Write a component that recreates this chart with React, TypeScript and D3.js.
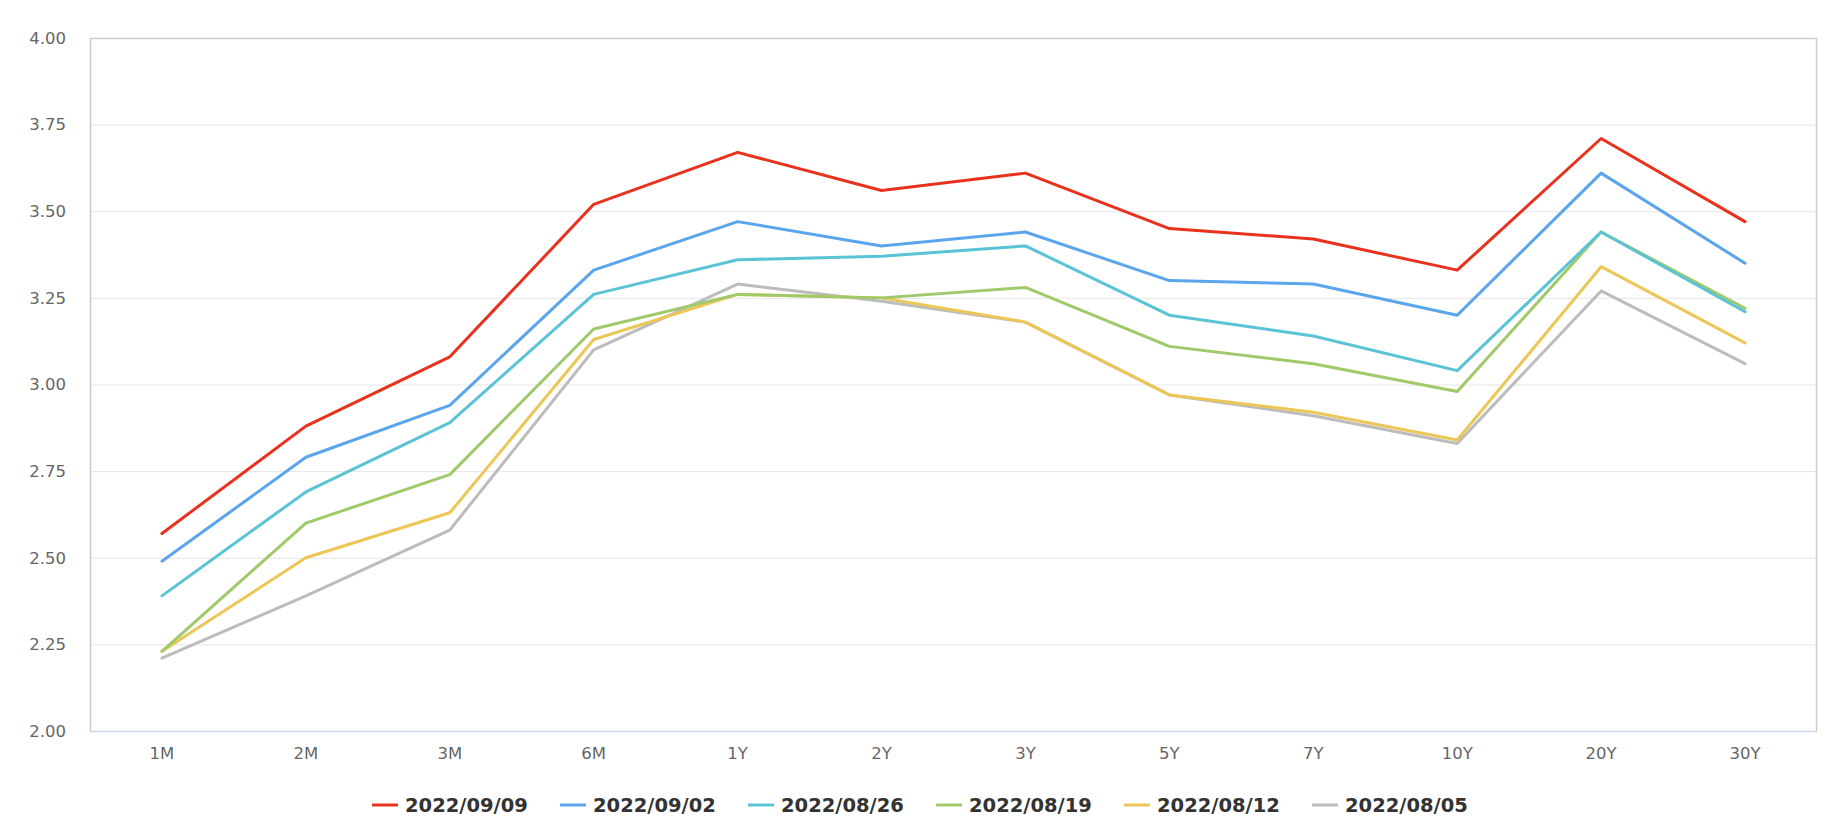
import * as d3 from "d3";
import { useEffect, useRef } from "react";

// tenors on the x axis
const tenors = ["1M", "2M", "3M", "6M", "1Y", "2Y", "3Y", "5Y", "7Y", "10Y", "20Y", "30Y"];

const dates = ["2022/09/09", "2022/09/02", "2022/08/26", "2022/08/19", "2022/08/12", "2022/08/05"];
const colors = ["#e8321e", "#5aa5ec", "#5bc3d6", "#a0c96a", "#ecc656", "#bcbcbc"];

const curve0909 = [2.57, 2.88, 3.08, 3.52, 3.67, 3.56, 3.61, 3.45, 3.42, 3.33, 3.71, 3.47];
const curve0902 = [2.49, 2.79, 2.94, 3.33, 3.47, 3.40, 3.44, 3.30, 3.29, 3.20, 3.61, 3.35];
const curve0826 = [2.39, 2.69, 2.89, 3.26, 3.36, 3.37, 3.40, 3.20, 3.14, 3.04, 3.44, 3.21];
const curve0819 = [2.23, 2.60, 2.74, 3.16, 3.26, 3.25, 3.28, 3.11, 3.06, 2.98, 3.44, 3.22];
const curve0812 = [2.23, 2.50, 2.63, 3.13, 3.26, 3.25, 3.18, 2.97, 2.92, 2.84, 3.34, 3.12];
const curve0805 = [2.21, 2.39, 2.58, 3.10, 3.29, 3.24, 3.18, 2.97, 2.91, 2.83, 3.27, 3.06];

const series = [curve0909, curve0902, curve0826, curve0819, curve0812, curve0805];

const yTicks = [2.0, 2.25, 2.5, 2.75, 3.0, 3.25, 3.5, 3.75, 4.0];

const width = 1834;
const height = 834;

export default function App() {
    const ref = useRef<SVGSVGElement>(null);

    useEffect(() => {
        const margin = { top: 38, right: 17, bottom: 103, left: 90 };
        const font = "'DejaVu Sans', Verdana, sans-serif";

        d3.select(ref.current).selectAll("*").remove();
        const svg = d3.select(ref.current);

        const x = d3.scaleBand()
            .domain(tenors)
            .range([margin.left, width - margin.right]);

        const y = d3.scaleLinear()
            .domain([2, 4])
            .range([height - margin.bottom, margin.top]);

        // grid lines
        svg.append("g")
            .selectAll("line")
            .data(yTicks.slice(1, -1))
            .join("line")
            .attr("x1", margin.left)
            .attr("x2", width - margin.right)
            .attr("y1", (d) => y(d) + 0.5)
            .attr("y2", (d) => y(d) + 0.5)
            .attr("stroke", "#e6e6e6")
            .attr("stroke-width", 1);

        // frame
        svg.append("path")
            .attr("d", `M${margin.left + 0.5},${height - margin.bottom}V${margin.top + 0.5}H${width - margin.right - 0.5}V${height - margin.bottom}`)
            .attr("fill", "none")
            .attr("stroke", "#cccccc")
            .attr("stroke-width", 1.5);

        svg.append("line")
            .attr("x1", margin.left)
            .attr("x2", width - margin.right)
            .attr("y1", y(2) + 0.5)
            .attr("y2", y(2) + 0.5)
            .attr("stroke", "#ccd6eb")
            .attr("stroke-width", 1.5);

        // y labels
        svg.append("g")
            .selectAll("text")
            .data(yTicks)
            .join("text")
            .attr("x", margin.left - 24)
            .attr("y", (d) => y(d))
            .attr("dy", "0.35em")
            .attr("text-anchor", "end")
            .attr("font-family", font)
            .attr("font-size", 16.5)
            .attr("fill", "#666666")
            .text((d) => d.toFixed(2));

        // x labels
        svg.append("g")
            .selectAll("text")
            .data(tenors)
            .join("text")
            .attr("x", (d) => (x(d) || 0) + x.bandwidth() / 2)
            .attr("y", y(2) + 28)
            .attr("text-anchor", "middle")
            .attr("font-family", font)
            .attr("font-size", 16.5)
            .attr("fill", "#666666")
            .text((d) => d);

        const line = d3.line<number>()
            .x((_, i) => (x(tenors[i]) || 0) + x.bandwidth() / 2)
            .y((d) => y(d));

        // draw oldest first so the latest sits on top
        svg.append("g")
            .selectAll("path")
            .data(series.map((s, i) => ({ s, i })).reverse())
            .join("path")
            .attr("fill", "none")
            .attr("stroke", (d) => colors[d.i])
            .attr("stroke-width", 3)
            .attr("stroke-linejoin", "round")
            .attr("stroke-linecap", "round")
            .attr("d", (d) => line(d.s)!);

        // legend
        const step = 188;
        const legendY = 805;
        const legendStart = 372;
        const legend = svg.append("g")
            .selectAll("g")
            .data(dates)
            .join("g")
            .attr("transform", (_, i) => `translate(${legendStart + i * step},${legendY})`);

        legend.append("line")
            .attr("x1", 0)
            .attr("x2", 26)
            .attr("y1", 0)
            .attr("y2", 0)
            .attr("stroke", (_, i) => colors[i])
            .attr("stroke-width", 3);

        legend.append("text")
            .attr("x", 33)
            .attr("y", 0)
            .attr("dy", "0.35em")
            .attr("font-family", font)
            .attr("font-size", 19.5)
            .attr("font-weight", "bold")
            .attr("fill", "#333333")
            .text((d) => d);
    }, []);

    return (
        <svg
            ref={ref}
            width={width}
            height={height}
            style={{ position: "absolute", left: 0, top: 0, display: "block", background: "#fff" }}
        />
    );
}
